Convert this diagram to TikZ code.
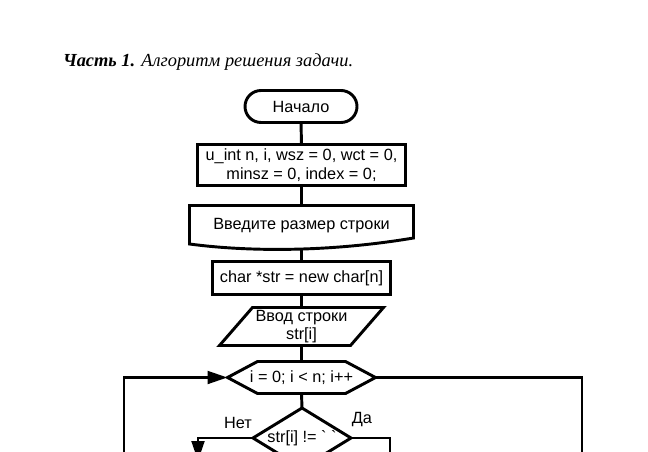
\documentclass[tikz,border=0pt]{standalone}
\usepackage{fontspec}
\setmainfont{Liberation Sans}
\newfontfamily\titlefont{Liberation Serif}
\usetikzlibrary{shapes.misc,arrows.meta,calc}
\begin{document}
\begin{tikzpicture}[x=0.75pt,y=-0.75pt,
  every node/.style={font=\fontsize{12.2}{14}\selectfont, inner sep=0pt, outer sep=0pt},
  blk/.style={line width=2.2pt, draw=black},
  conn/.style={line width=2.2pt, draw=black},
  arr/.style={conn, -{Triangle[length=15pt,width=9.5pt]}},
  procbox/.style={rectangle, blk, align=center},
  ghost/.style={rectangle, draw=none, align=center}
]
\useasboundingbox (0,0) rectangle (648,452);
\clip (0,0) rectangle (648,452);

\node[anchor=base west, font=\titlefont\fontsize{13.8}{16}\selectfont] (title) at (63,67)
  {\textbf{\textit{Часть 1.}} \textit{Алгоритм решения задачи.}};

\node[rounded rectangle, blk, minimum width=84pt, minimum height=24pt] (start) at (301,106.5) {Начало};

\node[procbox, minimum width=156pt, minimum height=30.75pt] (init) at (301.5,165)
  {u\_int n, i, wsz = 0, wct = 0,\\minsz = 0, index = 0;};

\node[ghost, minimum width=168pt, minimum height=30pt] (doc) at (301.5,225.5) {Введите размер строки};
\coordinate (docb) at (301.5,249);
\draw[blk, line join=miter] ($(doc.south west)+(0,-1.5)$) -- (doc.north west) -- (doc.north east) -- ($(doc.south east)+(0,-7.5)$)
  .. controls (330,252) and (250,252) .. ($(doc.south west)+(0,-1.5)$) -- cycle;

\node[procbox, minimum width=133.5pt, minimum height=24.75pt] (alloc) at (301.5,278) {char *str = new char[n]};

\node[ghost, minimum width=123pt, minimum height=28.5pt] (inp) at (301.5,326.5) {Ввод строки\\str[i]};
\draw[blk] ($(inp.north west)+(33,0)$) -- (inp.north east) -- ($(inp.south east)+(-33,0)$) -- (inp.south west) -- cycle;

\node[ghost, minimum width=111pt, minimum height=24pt] (loop) at (301.5,377.5) {i = 0; i < n; i++};
\draw[blk] (loop.west) -- ($(loop.north west)+(30,0)$) -- ($(loop.north east)+(-30,0)$) -- (loop.east)
  -- ($(loop.south east)+(-30,0)$) -- ($(loop.south west)+(30,0)$) -- cycle;

\node[ghost, minimum width=73.5pt, minimum height=45pt] (cond) at (302,438) {str[i] != \textasciigrave\ \textasciigrave};
\draw[blk] (cond.north) -- (cond.east) -- (cond.south) -- (cond.west) -- cycle;

\node (no) at (238,423) {Нет};
\node (yes) at (362,420) {Да};

\coordinate (loopL) at (124,480);
\coordinate (loopR) at (582,480);
\coordinate (noEnd) at (198,461);
\coordinate (yesEnd) at (390,480);

\draw[conn] (start.south) -- (init.north);
\draw[conn] (init.south) -- (doc.north);
\draw[conn] (docb) -- (alloc.north);
\draw[conn] (alloc.south) -- (inp.north);
\draw[conn] (inp.south) -- (loop.north);
\draw[conn] (loop.south) -- (cond.north);
\draw[arr] (loopL) |- (loop.west);
\draw[conn] (loop.east) -| (loopR);
\draw[arr] (cond.west) -| (noEnd);
\draw[conn] (cond.east) -| (yesEnd);
\end{tikzpicture}
\end{document}
